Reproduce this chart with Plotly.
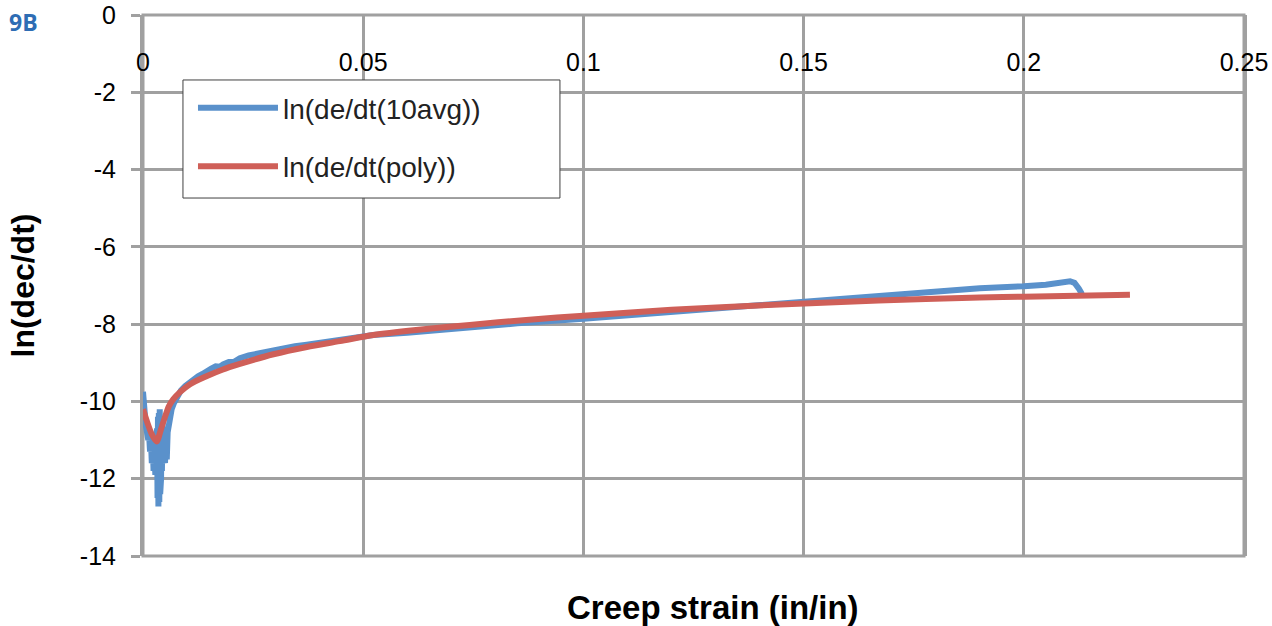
import plotly.graph_objects as go

# Measured (10-point average) series
avg_x = [0.0, 0.0002, 0.0004, 0.0006, 0.0008, 0.0010, 0.0012, 0.0014, 0.0016, 0.0018,
         0.0020, 0.0022, 0.0024, 0.0026, 0.0028, 0.0030, 0.0031, 0.0032, 0.0033, 0.0034,
         0.0035, 0.0036, 0.0037, 0.0038, 0.0039, 0.0040, 0.0041, 0.0042, 0.0043, 0.0044,
         0.0045, 0.0046, 0.0047, 0.0048, 0.0050, 0.0052, 0.0054, 0.0056, 0.0060, 0.0065,
         0.0070, 0.0078, 0.0086, 0.0096, 0.0106, 0.0115, 0.0125, 0.0135, 0.0144, 0.0155,
         0.0165, 0.0175, 0.0182, 0.0195, 0.0208, 0.0220, 0.0240, 0.0260, 0.0280, 0.0296,
         0.0320, 0.0345, 0.0372, 0.0400, 0.0425, 0.0447, 0.0480, 0.0523, 0.0600, 0.0742,
         0.0850, 0.1000, 0.1100, 0.1200, 0.1300, 0.1400, 0.1500, 0.1600, 0.1670, 0.1800,
         0.1900, 0.2000, 0.2050, 0.2105, 0.2115, 0.2125, 0.2132]
avg_y = [-9.75, -9.9, -10.3, -10.6, -10.8, -10.7, -11.0, -10.9, -11.3, -11.0,
         -11.6, -11.1, -11.8, -11.2, -11.9, -10.9, -12.2, -10.7, -12.5, -10.4,
         -12.72, -10.3, -12.6, -10.2, -12.4, -10.4, -12.0, -10.6, -11.8, -10.5,
         -11.5, -10.7, -11.3, -10.8, -11.6, -11.0, -11.5, -10.8, -10.4, -10.2,
         -10.05, -9.88, -9.72, -9.6, -9.5, -9.44, -9.35, -9.29, -9.21, -9.15,
         -9.09, -9.1, -9.04, -8.98, -8.97, -8.88, -8.81, -8.76, -8.7, -8.66,
         -8.62, -8.57, -8.53, -8.49, -8.45, -8.4, -8.35, -8.28, -8.22, -8.07,
         -7.98, -7.86, -7.77, -7.68, -7.6, -7.52, -7.43, -7.33, -7.25, -7.14,
         -7.07, -7.02, -6.98, -6.89, -6.93, -7.08, -7.22]

# Polynomial fit series
poly_x = [0.0, 0.001, 0.002, 0.0031, 0.004, 0.005, 0.0059, 0.0069, 0.0084, 0.0106,
          0.0144, 0.018, 0.022, 0.0296, 0.0372, 0.0447, 0.0523, 0.0620, 0.0742, 0.0870,
          0.1000, 0.1200, 0.1446, 0.1670, 0.1900, 0.2000, 0.2241]
poly_y = [-10.2, -10.55, -10.85, -11.04, -10.75, -10.4, -10.12, -9.94, -9.76, -9.56,
          -9.35, -9.18, -9.03, -8.78, -8.59, -8.44, -8.28, -8.15, -8.02, -7.89,
          -7.78, -7.63, -7.49, -7.39, -7.31, -7.29, -7.24]

x_ticks = [0, 0.05, 0.1, 0.15, 0.2, 0.25]
x_labels = ["0", "0.05", "0.1", "0.15", "0.2", "0.25"]
y_ticks = [0, -2, -4, -6, -8, -10, -12, -14]
y_labels = ["0", "-2", "-4", "-6", "-8", "-10", "-12", "-14"]

BLUE = "#5A91CB"
RED = "#CF5F58"
GRID = "#A0A0A0"
FONT = "Liberation Sans, Arial, sans-serif"

fig = go.Figure()
fig.add_trace(go.Scatter(x=avg_x, y=avg_y, mode="lines", name="ln(de/dt(10avg))",
                         line=dict(color=BLUE, width=6), legendgroup="a"))
fig.add_trace(go.Scatter(x=poly_x, y=poly_y, mode="lines", name="ln(de/dt(poly))",
                         line=dict(color=RED, width=6, shape="spline", smoothing=0.8),
                         legendgroup="b"))

fig.update_layout(
    width=1272, height=626,
    margin=dict(l=143, r=28, t=15, b=70),
    paper_bgcolor="white", plot_bgcolor="white",
    font=dict(family=FONT, color="black", size=25),
    showlegend=True,
    legend=dict(x=0.0454, y=0.874, xanchor="left", yanchor="top",
                borderwidth=0, bgcolor="rgba(0,0,0,0)",
                font=dict(size=28, family=FONT, color="#222222"), tracegroupgap=19,
                itemwidth=80),
    xaxis=dict(range=[0, 0.25], tickvals=x_ticks, ticktext=x_labels,
               anchor="free", position=1, side="bottom",
               ticklabelstandoff=30, automargin=False,
               showgrid=True, gridcolor=GRID, gridwidth=3,
               showline=False, ticks="", zeroline=False,
               tickfont=dict(size=25, family=FONT)),
    yaxis=dict(range=[-14, 0], tickvals=y_ticks, ticktext=y_labels,
               showgrid=True, gridcolor=GRID, gridwidth=3,
               showline=True, linecolor=GRID, linewidth=3, mirror=True,
               ticks="outside", ticklen=9, tickwidth=3, tickcolor=GRID,
               ticklabelstandoff=10, zeroline=False, automargin=False,
               tickfont=dict(size=25, family=FONT)),
    shapes=[
        dict(type="rect", xref="paper", yref="paper", x0=0, x1=1, y0=0, y1=1,
             line=dict(color=GRID, width=3), layer="below"),
        # legend frame
        dict(type="rect", xref="paper", yref="paper", x0=0.0363, x1=0.3787,
             y0=0.6617, y1=0.8799, line=dict(color="#404040", width=1),
             fillcolor="white", layer="above"),
    ],
)

fig.add_annotation(text="<b>Creep strain (in/in)</b>", xref="paper", yref="paper",
                   x=0.5, xshift=19, y=0, yshift=-51, xanchor="center", yanchor="middle",
                   showarrow=False, font=dict(size=33, family=FONT))
fig.add_annotation(text="<b>ln(dec/dt)</b>", xref="paper", yref="paper",
                   x=0, xshift=-121, y=0.5, xanchor="center", yanchor="middle",
                   textangle=-90, showarrow=False, font=dict(size=32, family=FONT))
fig.add_annotation(text="<b>9B</b>", xref="paper", yref="paper",
                   x=0, xshift=-120, y=1, yshift=-7, xanchor="center", yanchor="middle",
                   showarrow=False, font=dict(size=23, family="Open Sans, sans-serif", color="#2E6DB4"))

fig.write_html("out.html")
